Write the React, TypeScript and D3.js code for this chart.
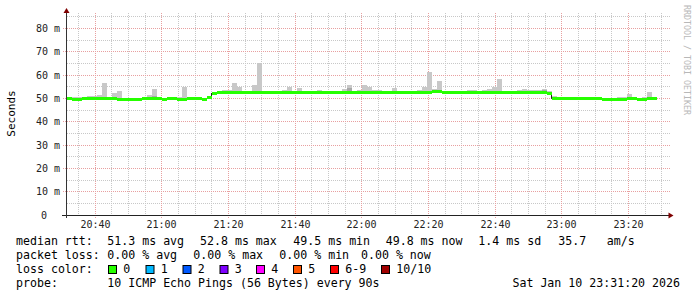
import React from "react";
import * as d3 from "d3";

const START_UTC = Date.UTC(2026, 0, 10, 20, 31, 36);
const STEP_SECONDS = 90;
const SPAN_MINUTES = 180;

// median rtt per 90 s step (ms)
const medianRtt = [
  50.0, 49.5, 49.5, 50.0, 50.0, 50.0, 50.0, 50.0, 50.0, 50.0,
  49.5, 49.5, 49.5, 49.5, 49.5, 50.0, 50.0, 50.0, 50.0, 49.5,
  50.0, 50.0, 49.5, 49.5, 50.0, 50.0, 50.0, 49.5, 50.3, 52.3,
  52.7, 52.7, 52.4, 52.4, 52.4, 52.4, 52.4, 52.4, 52.7, 52.7,
  52.4, 52.4, 52.4, 52.4, 52.4, 52.7, 52.7, 52.7, 52.4, 52.4,
  52.7, 52.7, 52.7, 52.5, 52.5, 52.5, 52.7, 52.7, 52.7, 52.7,
  52.7, 52.7, 52.4, 52.7, 52.7, 52.7, 52.5, 52.5, 52.5, 52.5,
  52.7, 52.7, 52.4, 52.8, 52.8, 52.4, 52.4, 52.4, 52.4, 52.4,
  52.4, 52.4, 52.7, 52.7, 52.4, 52.7, 52.7, 52.7, 52.7, 52.4,
  52.7, 52.4, 52.4, 52.7, 52.4, 52.4, 52.0, 49.8, 49.8, 49.8,
  49.8, 49.8, 49.8, 49.8, 49.8, 49.8, 49.8, 49.4, 49.4, 49.4,
  49.4, 49.4, 49.8, 49.8, 49.4, 49.4, 49.8, 49.8,
];

// highest ping per step (ms), null = no visible smoke
const smokeMax = [
  50.6, 50.6, 50.6, null, 50.9, 50.9, 51.3, 56.4, null, 52.2,
  53.1, null, null, null, null, 50.4, 51.3, 53.9, null, null,
  50.8, null, 50.8, 54.8, null, 50.5, null, null, null, null,
  null, 53.5, 53.5, 56.4, 54.8, null, null, 55.6, 65.2, null,
  null, null, null, 53.5, 54.8, null, 54.3, null, null, null,
  53.5, null, null, null, null, 53.9, 55.9, null, 53.5, 55.9,
  55.0, 53.5, 53.5, null, null, 54.3, null, null, null, null,
  53.5, 54.8, 61.2, 53.9, 57.3, null, null, null, null, null,
  53.5, 53.5, null, 53.5, 53.9, 55.0, 58.1, null, null, null,
  53.5, 53.9, 53.5, 53.5, 53.5, 53.9, 53.0, 50.9, null, null,
  null, 50.5, null, null, null, null, 50.5, null, null, null,
  50.5, 50.8, 51.7, null, null, 50.8, 52.6, 50.5,
];

const smokeDarkSteps = [17, 56, 95];
const smokeDarkTops = [50.9, 54.3, 53.4];

const xTickLabels = ["20:40", "21:00", "21:20", "21:40", "22:00", "22:20", "22:40", "23:00", "23:20"];
const yTickValues = [0, 10, 20, 30, 40, 50, 60, 70, 80];
const yTickLabels = ["0", "10 m", "20 m", "30 m", "40 m", "50 m", "60 m", "70 m", "80 m"];

const lossLabels = ["0", "1", "2", "3", "4", "5", "6-9", "10/10"];
const lossColors = ["#26ff00", "#00b8ff", "#0059ff", "#7e00ff", "#ff00ff", "#ff5500", "#ff0000", "#a10000"];

const medianItems = ["median rtt:", "51.3 ms avg", "52.8 ms max", "49.5 ms min", "49.8 ms now", "1.4 ms sd", "35.7", "am/s"];
const lossItems = ["packet loss:", "0.00 % avg", "0.00 % max", "0.00 % min", "0.00 % now"];
const probeItems = ["probe:", "10 ICMP Echo Pings (56 Bytes) every 90s"];
const legendDate = "Sat Jan 10 23:31:20 2026";

const MONO = "'DejaVu Sans Mono', monospace";

export default function App() {
  const t0 = new Date(START_UTC);
  const t1 = new Date(START_UTC + SPAN_MINUTES * 60000);
  const x = d3.scaleUtc().domain([t0, t1]).range([67, 667]);
  const y = d3.scaleLinear().domain([0, 86.6]).range([215, 13]);
  const px = (v: number) => Math.floor(v) + 0.5;

  const stepT = (i: number) => new Date(START_UTC + i * STEP_SECONDS * 1000);

  const minorTimes = d3.utcMinute.every(5)!.range(t0, t1).filter((d) => d.getUTCMinutes() % 20 !== 0);
  const majorTimes = xTickLabels.map((s) => {
    const [h, m] = s.split(":").map(Number);
    return new Date(Date.UTC(2026, 0, 10, h, m));
  });
  const minorY = d3.range(5, 86, 10);
  const majorY = yTickValues.filter((v) => v > 0);

  const jumps = medianRtt
    .map((m, i) => (i > 0 && Math.abs(m - medianRtt[i - 1]) > 1 ? i : -1))
    .filter((i) => i > 0);

  const legendX = [108, 145.5, 182.5, 219.5, 256, 293, 330, 381];
  const medianX = [16, 107.3, 200, 293.3, 385.7, 478.3, 558.3, 606.7];
  const lossX = [16, 107.3, 193.3, 279.3, 361];
  const probeX = [16, 107.3];

  const txt = (s: string, xx: number, yy: number, key: string) => (
    <text key={key} x={xx} y={yy} fontFamily={MONO} fontSize={11.6} fill="#000" xmlSpace="preserve" style={{ whiteSpace: "pre" }}>
      {s}
    </text>
  );

  return (
    <svg width={697} height={297} style={{ position: "absolute", left: 0, top: 0, background: "#fff" }}>
      <rect x={0} y={0} width={697} height={297} fill="#ffffff" />
      {/* minor grid */}
      {minorTimes.map((d, i) => (
        <line key={"mv" + i} x1={px(x(d))} x2={px(x(d))} y1={13} y2={215} stroke="#c8c8c8" strokeDasharray="1,1" />
      ))}
      {minorY.map((v) => (
        <line key={"mh" + v} x1={67} x2={670} y1={px(y(v))} y2={px(y(v))} stroke="#c8c8c8" strokeDasharray="1,1" />
      ))}
      {/* major grid */}
      {majorTimes.map((d, i) => (
        <line key={"Mv" + i} x1={px(x(d))} x2={px(x(d))} y1={13} y2={218} stroke="#e8a0a0" strokeDasharray="1,1" />
      ))}
      {majorY.map((v) => (
        <line key={"Mh" + v} x1={63} x2={670} y1={px(y(v))} y2={px(y(v))} stroke="#e8a0a0" strokeDasharray="1,1" />
      ))}
      {/* smoke */}
      {medianRtt.map((m, i) => {
        const hi = smokeMax[i];
        if (hi == null) return null;
        const xa = x(stepT(i));
        const xb = x(stepT(i + 1));
        return (
          <rect key={"s" + i} x={xa} width={xb - xa} y={y(hi)} height={y(m) - y(hi)} fill="#c8c8c8" shapeRendering="crispEdges" />
        );
      })}
      {smokeDarkSteps.map((k, j) => {
        const xa = x(stepT(k));
        const xb = x(stepT(k + 1));
        return (
          <rect key={"sd" + j} x={xa} width={xb - xa} y={y(smokeDarkTops[j])} height={y(medianRtt[k]) - y(smokeDarkTops[j])} fill="#a8a8a8" shapeRendering="crispEdges" />
        );
      })}
      {/* median dark joins at large steps */}
      {jumps.map((i) => (
        <line
          key={"j" + i}
          x1={px(x(stepT(i)) - 1)}
          x2={px(x(stepT(i)) - 1)}
          y1={y(medianRtt[i - 1])}
          y2={y(medianRtt[i])}
          stroke="#202020"
          strokeWidth={1}
        />
      ))}
      {/* loss coloured median band */}
      {medianRtt.map((m, i) => {
        const xa = x(stepT(i));
        const xb = x(stepT(i + 1));
        return <rect key={"g" + i} x={xa} width={xb - xa} y={y(m) - 1.5} height={3} fill={lossColors[0]} shapeRendering="crispEdges" />;
      })}
      {/* axes */}
      <line x1={62} x2={670} y1={215.5} y2={215.5} stroke="#222" />
      <line x1={66.5} x2={66.5} y1={218} y2={12} stroke="#333" />
      <path d="M668.5,212.5 L673.5,215.5 L668.5,218.5 Z" fill="#7f0000" />
      <path d="M63.5,13 L66.5,8 L69.5,13 Z" fill="#7f0000" />
      {/* y tick labels */}
      {yTickValues.map((v, i) => (
        <text key={"yl" + v} x={v === 0 ? 47 : 60} y={px(y(v)) + 3} textAnchor="end" fontFamily={MONO} fontSize={10} fill="#222">
          {yTickLabels[i]}
        </text>
      ))}
      {/* x tick labels */}
      {majorTimes.map((d, i) => (
        <text key={"xl" + i} x={px(x(d))} y={228} textAnchor="middle" fontFamily={MONO} fontSize={10} fill="#222">
          {xTickLabels[i]}
        </text>
      ))}
      {/* axis title */}
      <text transform="translate(15,113.5) rotate(-90)" textAnchor="middle" fontFamily={MONO} fontSize={11} fill="#000">
        Seconds
      </text>
      <text transform="translate(684,60) rotate(90)" textAnchor="middle" fontFamily={MONO} fontSize={8.3} fill="#b8b8b8">
        RRDTOOL / TOBI OETIKER
      </text>
      {/* legend */}
      {medianItems.map((s, i) => txt(s, medianX[i], 245, "m" + i))}
      {lossItems.map((s, i) => txt(s, lossX[i], 258.5, "l" + i))}
      {txt("loss color:", 16, 272.5, "lc")}
      {lossLabels.map((l, i) => (
        <g key={"lc" + i}>
          <rect x={legendX[i] + 0.5} y={265.5} width={8} height={8} fill={lossColors[i]} stroke="#000" strokeWidth={1} />
          <text x={legendX[i] + 15.3} y={272.5} fontFamily={MONO} fontSize={11.6} fill="#000">
            {l}
          </text>
        </g>
      ))}
      {probeItems.map((s, i) => txt(s, probeX[i], 286.5, "p" + i))}
      <text x={680} y={286.5} textAnchor="end" fontFamily={MONO} fontSize={11.6} fill="#000">
        {legendDate}
      </text>
    </svg>
  );
}
